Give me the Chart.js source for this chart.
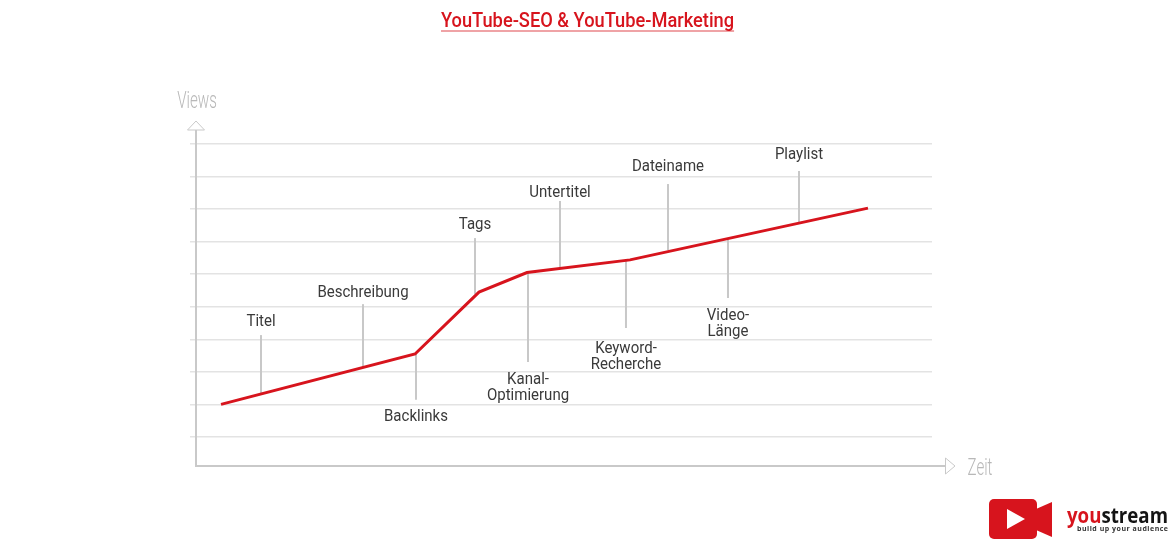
<!DOCTYPE html>
<html lang="de">
<head>
    <meta charset="UTF-8">
    <title>YouTube-SEO & YouTube-Marketing</title>
    <script src="https://cdn.jsdelivr.net/npm/chart.js"></script>
    <style>
        html, body { margin: 0; background: #fff; overflow: hidden; }
        #wrap { position: relative; width: 1175px; height: 547px; }
        canvas { position: absolute; left: 0; top: 0; }
        h1 {
            position: absolute; left: 441px; top: 11px; margin: 0;
            font: 500 20px Roboto, sans-serif; color: #d7141d; white-space: nowrap;
            border-bottom: 2px solid #efa3a6; line-height: 19px;
            transform: scaleX(0.913); transform-origin: left top;
        }
        #logo { position: absolute; left: 989px; top: 499px; }
    </style>
</head>
<body>
<div id="wrap">
    <canvas id="chart" width="1175" height="547"></canvas>
    <h1>YouTube-SEO &amp; YouTube-Marketing</h1>
    <svg id="logo" width="186" height="48" viewBox="0 0 186 48">
        <rect x="0" y="0" width="48" height="40" rx="5" fill="#d7141d"/>
        <path d="M47 10 L63 3 L63 38 L47 31 Z" fill="#d7141d"/>
        <path d="M18 10 L36 20 L18 30 Z" fill="#fff"/>
        <text x="78" y="24" textLength="101" lengthAdjust="spacingAndGlyphs" font-family="'Open Sans', sans-serif" font-weight="700" font-size="22" fill="#d7141d">you<tspan fill="#141414">stream</tspan></text>
        <text x="88" y="32" textLength="91" lengthAdjust="spacing" font-family="'Open Sans', sans-serif" font-weight="700" font-size="7" fill="#333">build up your audience</text>
    </svg>
</div>
<script>
    // x = Zeit (0-100), y = Views (grid steps)
    const curveX = [3.4, 29.76, 38.45, 44.97, 58.97, 91.3];
    const curveY = [2.0, 3.55, 5.45, 6.05, 6.44, 8.03];
    const gridValues = [1, 2, 3, 4, 5, 6, 7, 8, 9, 10];

    const factorLabels = [["Titel"], ["Beschreibung"], ["Backlinks"], ["Tags"], ["Kanal-", "Optimierung"],
        ["Untertitel"], ["Keyword-", "Recherche"], ["Dateiname"], ["Video-", "Länge"], ["Playlist"]];
    const factorX = [8.83, 22.69, 29.89, 37.91, 45.11, 49.46, 58.42, 64.13, 72.28, 81.93];
    const factorFrom = [2.32, 3.15, 3.55, 5.39, 6.07, 6.19, 6.44, 6.74, 7.05, 7.6];
    const factorTo = [4.13, 5.08, 2.14, 7.11, 3.30, 8.25, 4.35, 8.77, 5.27, 9.17];

    const yAxisTitle = "Views";
    const xAxisTitle = "Zeit";

    const labelGaps = [13, 11, 17, 13, 18, 8, 21, 17, 18, 16];
    const axisColor = "#c9c9c9";

    const stemSets = factorLabels.map((label, i) => ({
        data: [{ x: factorX[i], y: factorFrom[i] }, { x: factorX[i], y: factorTo[i] }],
        borderColor: "#c8c8c8",
        borderWidth: 2,
        pointRadius: 0,
        order: 2
    }));

    // the reference type is condensed, so squeeze the text horizontally
    function narrowText(ctx, text, x, y, squeeze) {
        ctx.save();
        ctx.translate(x, y);
        ctx.scale(squeeze, 1);
        ctx.fillText(text, 0, 0);
        ctx.restore();
    }

    const decorPlugin = {
        id: "decor",
        beforeDatasetsDraw(chart) {
            const ctx = chart.ctx;
            const a = chart.chartArea;
            ctx.save();
            ctx.strokeStyle = axisColor;
            ctx.lineWidth = 2;
            ctx.beginPath();
            ctx.moveTo(a.left, a.top - 14);
            ctx.lineTo(a.left, a.bottom);
            ctx.lineTo(a.right + 13, a.bottom);
            ctx.stroke();
            // hollow arrow heads
            ctx.lineWidth = 1;
            ctx.beginPath();
            ctx.moveTo(a.left - 8.5, a.top - 14);
            ctx.lineTo(a.left, a.top - 23);
            ctx.lineTo(a.left + 8.5, a.top - 14);
            ctx.closePath();
            ctx.moveTo(a.right + 13.5, a.bottom - 8);
            ctx.lineTo(a.right + 23, a.bottom);
            ctx.lineTo(a.right + 13.5, a.bottom + 8);
            ctx.closePath();
            ctx.stroke();
            ctx.restore();
        },
        afterDatasetsDraw(chart) {
            const ctx = chart.ctx;
            const a = chart.chartArea;
            const xs = chart.scales.x;
            const ys = chart.scales.y;
            ctx.save();
            ctx.textAlign = "center";
            ctx.textBaseline = "middle";
            ctx.fillStyle = "#3a3a3a";
            ctx.font = "16.5px Roboto, sans-serif";
            factorLabels.forEach((lines, i) => {
                const up = factorTo[i] > factorFrom[i];
                const tip = ys.getPixelForValue(factorTo[i]);
                const px = xs.getPixelForValue(factorX[i]);
                lines.forEach((line, n) => {
                    narrowText(ctx, line, px, up ? tip - labelGaps[i] : tip + labelGaps[i] + n * 16, 0.91);
                });
            });
            ctx.fillStyle = "#b8b8b8";
            ctx.font = "300 24px Roboto, sans-serif";
            narrowText(ctx, yAxisTitle, a.left + 1, a.top - 42, 0.63);
            narrowText(ctx, xAxisTitle, a.right + 48, a.bottom + 3, 0.63);
            ctx.restore();
        }
    };

    new Chart(document.getElementById("chart"), {
        type: "scatter",
        data: {
            datasets: [{
                data: curveX.map((x, i) => ({ x: x, y: curveY[i] })),
                borderColor: "#d7141d",
                borderWidth: 3,
                pointRadius: 0,
                order: 1
            }].concat(stemSets)
        },
        options: {
            responsive: false,
            animation: false,
            showLine: true,
            events: [],
            layout: { padding: { left: 196, right: 243, top: 144, bottom: 81 } },
            plugins: { legend: { display: false }, tooltip: { enabled: false } },
            scales: {
                x: { type: "linear", min: 0, max: 100, display: false },
                y: {
                    type: "linear",
                    min: 0.108,
                    max: 10,
                    afterFit(scale) { scale.width = 0; },
                    afterBuildTicks(scale) { scale.ticks = gridValues.map(v => ({ value: v })); },
                    border: { display: false },
                    grid: { color: "#e3e3e3", lineWidth: 1.5, drawTicks: true, tickLength: 6 },
                    ticks: { display: false }
                }
            }
        },
        plugins: [decorPlugin]
    });
</script>
</body>
</html>
